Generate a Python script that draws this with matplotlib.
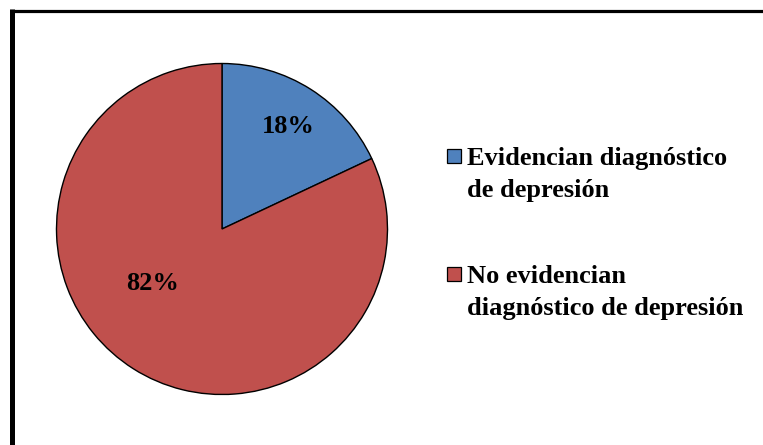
import matplotlib.pyplot as plt
from matplotlib.lines import Line2D
from matplotlib.patches import Rectangle

# data
labels = [['Evidencian diagnóstico', 'de depresión'],
          ['No evidencian', 'diagnóstico de depresión']]
values = [18, 82]
colors = ['#4F81BD', '#C0504D']
pct_text = ['18%', '82%']

plt.rcParams['font.family'] = ['Liberation Serif', 'DejaVu Serif']
plt.rcParams['font.weight'] = 'bold'

W, H = 763, 445
fig = plt.figure(figsize=(W / 100, H / 100), dpi=100)

# outer frame (right and bottom edges lie outside the picture)
fig.add_artist(Line2D([12 / W, 12 / W], [1 - 9 / H, -0.1], color='black', lw=3.6,
                      transform=fig.transFigure, solid_capstyle='butt'))
fig.add_artist(Line2D([10 / W, 1.1], [1 - 10.5 / H, 1 - 10.5 / H], color='black', lw=2.3,
                      transform=fig.transFigure, solid_capstyle='butt'))

cx, cy, r = 222, 229, 165.5
ax = fig.add_axes([(cx - r) / W, (H - cy - r) / H, 2 * r / W, 2 * r / H])
wedges, _ = ax.pie(values, colors=colors, startangle=90, counterclock=False,
                   wedgeprops=dict(edgecolor='black', linewidth=1.0))
ax.set_xlim(-1, 1)
ax.set_ylim(-1, 1)
ax.set_aspect('equal')

ax.text(0.402, 0.58, pct_text[0], ha='center', va='baseline', fontsize=19, fontweight='bold')
ax.text(-0.417, -0.369, pct_text[1], ha='center', va='baseline', fontsize=19, fontweight='bold')

# legend, drawn by hand so the square sits on the first line
first_base = [165, 283]
line_step = 32
for i, (lines, c) in enumerate(zip(labels, colors)):
    fig.add_artist(Rectangle((447 / W, 1 - (first_base[i] - 2) / H), 14 / W, 14 / H,
                             facecolor=c, edgecolor='black', linewidth=0.9,
                             transform=fig.transFigure))
    for j, line in enumerate(lines):
        fig.text(467 / W, 1 - (first_base[i] + j * line_step) / H, line,
                 ha='left', va='baseline', fontsize=19, fontweight='bold')

fig.savefig('out.png', dpi=100, facecolor='white')
